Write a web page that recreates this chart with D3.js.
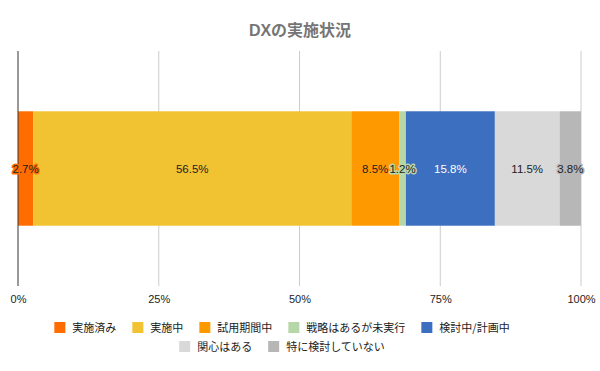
<!DOCTYPE html>
<html>
<head>
<meta charset="utf-8">
<script src="https://cdn.jsdelivr.net/npm/d3@7"></script>
<style>
  body { margin: 0; background: #fff; }
  svg { display: block; font-family: "Liberation Sans", Arial, "Noto Sans CJK JP", sans-serif; }
  .tick text { font-size: 11px; fill: #222; }
  .legend text { font-family: "Noto Sans CJK JP", sans-serif; font-size: 11px; fill: #222; }
</style>
</head>
<body>
<svg id="chart" width="600" height="371"></svg>
<script>
// categories and values (percent)
var categories = ["実施済み", "実施中", "試用期間中", "戦略はあるが未実行", "検討中/計画中", "関心はある", "特に検討していない"];
var values = [2.7, 56.5, 8.5, 1.2, 15.8, 11.5, 3.8];
var colors = ["#ff6d01", "#f1c232", "#ff9900", "#b6d7a8", "#3c6fc0", "#d9d9d9", "#b7b7b7"];
var labelColors = ["#222", "#222", "#222", "#222", "#fff", "#222", "#222"];
var tickValues = [0, 25, 50, 75, 100];

var svg = d3.select("#chart");
var margin = {top: 51, right: 19, bottom: 85, left: 18};
var width = +svg.attr("width") - margin.left - margin.right;
var height = +svg.attr("height") - margin.top - margin.bottom;

// title
svg.append("text")
	.attr("x", 300)
	.attr("y", 36)
	.attr("text-anchor", "middle")
	.style("font-family", "'Liberation Sans', Arial, 'Noto Sans CJK JP', sans-serif")
	.style("font-size", "16px")
	.style("font-weight", "bold")
	.attr("fill", "#757575")
	.text("DXの実施状況");

var g = svg.append("g").attr("transform", "translate(" + margin.left + "," + margin.top + ")");

var xScale = d3.scaleLinear().domain([0, 100]).range([0, width]);
var yScale = d3.scaleBand().domain(["DX"]).range([0, height]).padding(0.345);

// gridlines
g.selectAll(".grid")
	.data(tickValues.slice(1))
	.enter().append("line")
	.attr("class", "grid")
	.attr("x1", function(d) { return xScale(d); })
	.attr("x2", function(d) { return xScale(d); })
	.attr("y1", 0)
	.attr("y2", height)
	.attr("stroke", "#cccccc")
	.attr("stroke-width", 1);

// stacked segments
var stack = [];
var acc = 0;
values.forEach(function(v, i) {
	stack.push({v: v, x0: acc, x1: acc + v, i: i});
	acc += v;
});

g.selectAll(".seg")
	.data(stack)
	.enter().append("rect")
	.attr("class", "seg")
	.attr("x", function(d) { return xScale(d.x0); })
	.attr("width", function(d) { return xScale(d.x1) - xScale(d.x0); })
	.attr("y", yScale("DX"))
	.attr("height", yScale.bandwidth())
	.attr("fill", function(d) { return colors[d.i]; });

// left axis line
g.append("line")
	.attr("x1", 0).attr("x2", 0)
	.attr("y1", 0).attr("y2", height)
	.attr("stroke", "#333")
	.attr("stroke-width", 1);

// data labels
g.selectAll(".lbl")
	.data(stack)
	.enter().append("text")
	.attr("class", "lbl")
	.attr("x", function(d) { return xScale((d.x0 + d.x1) / 2); })
	.attr("y", yScale("DX") + yScale.bandwidth() / 2 + 4)
	.attr("text-anchor", "middle")
	.style("font-size", "11.5px")
	.style("paint-order", "stroke")
	.attr("stroke", function(d) { return colors[d.i]; })
	.attr("stroke-width", 3)
	.attr("stroke-linejoin", "round")
	.attr("fill", function(d) { return labelColors[d.i]; })
	.text(function(d) { return d.v.toFixed(1) + "%"; });

// x axis labels
var xAxis = g.append("g")
	.attr("transform", "translate(0," + height + ")")
	.call(d3.axisBottom(xScale).tickValues(tickValues).tickSize(0).tickPadding(9).tickFormat(function(d) { return d + "%"; }));
xAxis.select(".domain").remove();

// legend, wrapped and centred
var legend = svg.append("g").attr("class", "legend");
var items = legend.selectAll(".item")
	.data(categories)
	.enter().append("g")
	.attr("class", "item");
items.append("rect")
	.attr("width", 11).attr("height", 11)
	.attr("y", -6)
	.attr("fill", function(d, i) { return colors[i]; });
items.append("text")
	.attr("x", 18)
	.attr("y", 4)
	.text(function(d) { return d; });

var maxRow = 480, gap = 16, rows = [[]], rowW = [0];
items.each(function(d, i) {
	var w = 18 + this.querySelector("text").getComputedTextLength();
	var r = rows.length - 1;
	var add = rows[r].length ? gap + w : w;
	if (rowW[r] + add > maxRow && rows[r].length) {
		rows.push([]); rowW.push(0); r++; add = w;
	}
	rows[r].push({node: this, w: w});
	rowW[r] += add;
});
rows.forEach(function(row, r) {
	var x = 282 - rowW[r] / 2;
	row.forEach(function(it) {
		d3.select(it.node).attr("transform", "translate(" + x + "," + (328 + r * 19) + ")");
		x += it.w + gap;
	});
});
</script>
</body>
</html>
